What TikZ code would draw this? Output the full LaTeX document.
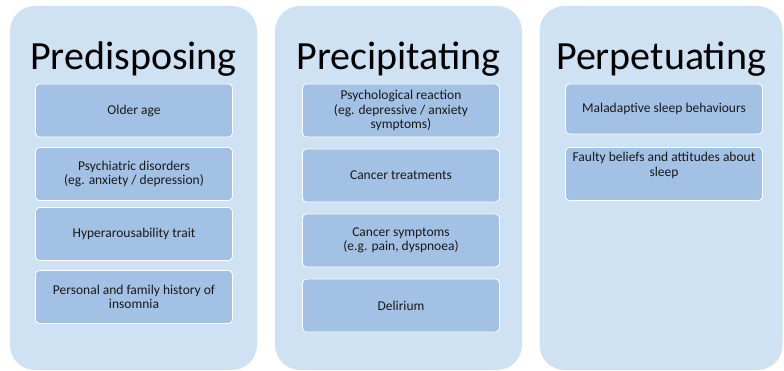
\documentclass[tikz,border=0pt]{standalone}
\usepackage{fontspec}
\setmainfont{Carlito}
\definecolor{panelblue}{HTML}{CFE2F3}
\definecolor{itemblue}{HTML}{A3C1E5}
\begin{document}
\begin{tikzpicture}[x=1pt, y=-1pt, font=\fontsize{13.5}{14.5}\selectfont,
	panel/.style={fill=panelblue, rounded corners=25pt, minimum width=247pt, minimum height=364pt, inner sep=0pt},
	item/.style={fill=itemblue, draw=white, line width=0.8pt, rounded corners=4pt, minimum width=197pt, minimum height=53pt, align=center, text=black!90},
	heading/.style={font=\fontsize{40}{48}\selectfont, anchor=base}]
	\useasboundingbox (0,0) rectangle (784,371);
	% three columns
	\node[panel] (pre) at (133.5,188) {};
	\node[panel] (prc) at (398.5,188) {};
	\node[panel, minimum width=243pt] (per) at (661,188) {};
	\node[heading] (preT) at (133.5,70) {Predisposing};
	\node[heading] (prcT) at (398.5,70) {Precipitating};
	\node[heading] (perT) at (661,70) {Perpetuating};
	% predisposing
	\node[item] (pre1) at (134,110.5) {Older age};
	\node[item] (pre2) at (134,174) {Psychiatric disorders\\(eg. anxiety / depression)};
	\node[item] (pre3) at (134,234) {Hyperarousability trait};
	\node[item] (pre4) at (134,297) {Personal and family history of\\insomnia};
	% precipitating
	\node[item] (prc1) at (401,110.5) {Psychological reaction\\(eg. depressive / anxiety\\symptoms)};
	\node[item] (prc2) at (401,175.5) {Cancer treatments};
	\node[item] (prc3) at (401,240.5) {Cancer symptoms\\(e.g. pain, dyspnoea)};
	\node[item] (prc4) at (401,305.5) {Delirium};
	% perpetuating
	\node[item, minimum height=50pt] (per1) at (664,109) {Maladaptive sleep behaviours};
	\node[item, text depth=19pt] (per2) at (664,174) {Faulty beliefs and attitudes about\\sleep};
\end{tikzpicture}
\end{document}
